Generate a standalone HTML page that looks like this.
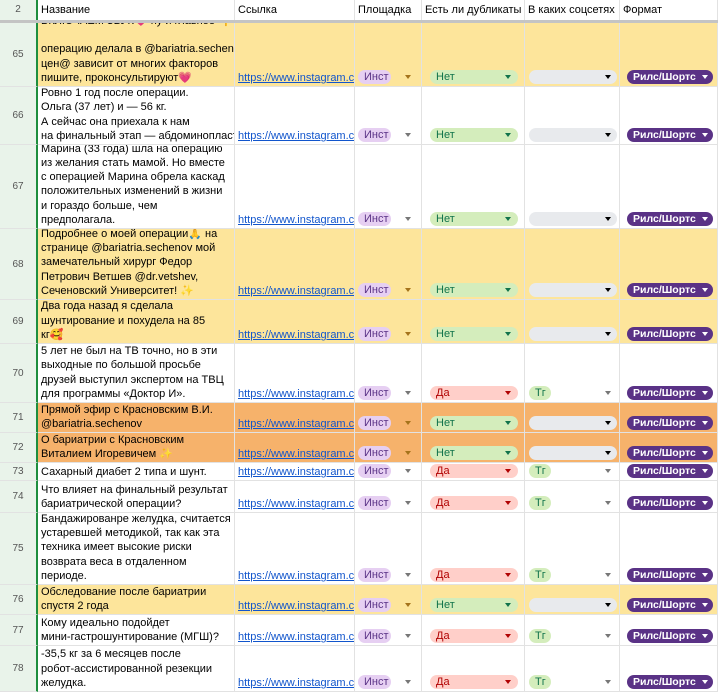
<!DOCTYPE html>
<html><head><meta charset="utf-8">
<style>
*{margin:0;padding:0;box-sizing:border-box}
body{width:718px;height:690px;overflow:hidden;background:#fff;font-family:"Liberation Sans","Noto Sans CJK SC",sans-serif;font-size:11px;color:#000;position:relative}
.c{position:absolute;overflow:hidden;border-right:1px solid #e2e2e2;border-bottom:1px solid #e2e2e2}
.rh{background:#e9f3ea;color:#555;font-size:10px;text-align:center;border-right:2px solid #1e8e3e}
.txt{line-height:14.2px;padding:0 2px 0 3px;white-space:nowrap;display:flex;flex-direction:column;justify-content:flex-end;padding-bottom:1px}
.lnk{color:#1155cc;text-decoration:underline;white-space:nowrap;padding-left:3px;display:flex;align-items:flex-end;padding-bottom:2px}
.chip{position:absolute;height:14px;border-radius:7px;font-size:11px;line-height:15px;padding-left:6px;white-space:nowrap}
.arr{position:absolute;width:0;height:0;border-left:3px solid transparent;border-right:3px solid transparent;border-top:4px solid #777}
</style></head><body>
<div id="root"></div>
<script>
var rows=[
[65,23,64,'#fde59b',['ВКЛЮЧАЕМ ЗВУК💗 ну и главное 👇','','операцию делала в @bariatria.sechen','цен@ зависит от многих факторов','пишите, проконсультируют💗'],0,0],
[66,87,58,'#fff',['Ровно 1 год после операции.','Ольга (37 лет) и — 56 кг.','А сейчас она приехала к нам','на финальный этап — абдоминопластика'],0,0],
[67,145,84,'#fff',['Марина (33 года) шла на операцию','из желания стать мамой. Но вместе','с операцией Марина обрела каскад','положительных изменений в жизни','и гораздо больше, чем','предполагала.'],0,0],
[68,229,71,'#fde59b',['Подробнее о моей операции🙏 на','странице @bariatria.sechenov мой','замечательный хирург Федор','Петрович Ветшев @dr.vetshev,','Сеченовский Университет! ✨'],0,0],
[69,300,44,'#fde59b',['Два года назад я сделала','шунтирование и похудела на 85','кг🥰'],0,0],
[70,344,59,'#fff',['5 лет не был на ТВ точно, но в эти','выходные по большой просьбе','друзей выступил экспертом на ТВЦ','для программы «Доктор И».'],1,1],
[71,403,30,'#f6b26b',['Прямой эфир с Красновским В.И.','@bariatria.sechenov'],0,0],
[72,433,30,'#f6b26b',['О бариатрии с Красновским','Виталием Игоревичем ✨'],0,0],
[73,463,18,'#fff',['Сахарный диабет 2 типа и шунт.'],1,1],
[74,481,32,'#fff',['Что влияет на финальный результат','бариатрической операции?'],1,1],
[75,513,72,'#fff',['Бандажированре желудка, считается','устаревшей методикой, так как эта','техника имеет высокие риски','возврата веса в отдаленном','периоде.'],1,1],
[76,585,30,'#fde59b',['Обследование после бариатрии','спустя 2 года'],0,0],
[77,615,31,'#fff',['Кому идеально подойдет','мини-гастрошунтирование (МГШ)?'],1,1],
[78,646,46,'#fff',['-35,5 кг за 6 месяцев после','робот-ассистированной резекции','желудка.'],1,1]
];
var cols=[[0,38],[38,235],[235,355],[355,422],[422,525],[525,620],[620,718]];
var h='';
function cell(x1,x2,y,hh,bg,cls,inner,extra){return '<div class="c '+(cls||'')+'" style="left:'+x1+'px;top:'+y+'px;width:'+(x2-x1)+'px;height:'+hh+'px;background:'+bg+';'+(extra||'')+'">'+(inner||'')+'</div>';}
var hd=['2','Название','Ссылка','Площадка','Есть ли дубликаты','В каких соцсетях','Формат'];
for(var i=0;i<7;i++){h+=cell(cols[i][0],cols[i][1],0,21,i==0?'#e9f3ea':'#fff',i==0?'rh':'',hd[i],'line-height:20px;'+(i?'padding-left:3px;font-size:11px;white-space:nowrap;':''));}
h+='<div style="position:absolute;left:0;top:20px;width:718px;height:3px;background:#c4c4c4"></div>';
rows.forEach(function(r){
 var n=r[0],y=r[1],hh=r[2],bg=r[3];
 h+=cell(0,38,y,hh,'#e9f3ea','rh',n,'line-height:'+hh+'px;');
 h+=cell(38,235,y,hh,bg,'txt',r[4].map(function(t){return '<div>'+(t||'&nbsp;')+'</div>';}).join(''));
 h+=cell(235,355,y,hh,bg,'lnk','https://www.instagram.com/reel/');
 for(var i=3;i<7;i++)h+=cell(cols[i][0],cols[i][1],y,hh,bg,'');
 var cy=y+hh-17;
 var ac=bg=='#fff'?'#777':'#a5731b';
 h+='<div class="chip" style="left:358px;top:'+cy+'px;width:33px;background:#e6cff2;color:#5a3286">Инст</div>';
 h+='<div class="arr" style="left:405px;top:'+(cy+5)+'px;border-top-color:'+ac+'"></div>';
 if(r[5]){h+='<div class="chip" style="left:430px;top:'+cy+'px;width:88px;background:#ffcfc9;color:#b10202">Да</div><div class="arr" style="left:505px;top:'+(cy+5)+'px;border-top-color:#b10202"></div>';}
 else{h+='<div class="chip" style="left:430px;top:'+cy+'px;width:88px;background:#d4edbc;color:#11734b">Нет</div><div class="arr" style="left:505px;top:'+(cy+5)+'px;border-top-color:#11734b"></div>';}
 if(r[6]){h+='<div class="chip" style="left:529px;top:'+cy+'px;width:22px;background:#d4edbc;color:#11734b">Тг</div><div class="arr" style="left:605px;top:'+(cy+5)+'px;border-top-color:#777"></div>';}
 else{h+='<div class="chip" style="left:529px;top:'+cy+'px;width:88px;background:#e8eaed"></div><div class="arr" style="left:605px;top:'+(cy+5)+'px;border-top-color:#000"></div>';}
 h+='<div class="chip" style="left:627px;top:'+cy+'px;width:86px;background:#5a3286;color:#fff;font-weight:bold;font-size:10.5px">Рилс/Шортс</div><div class="arr" style="left:702px;top:'+(cy+5)+'px;border-top-color:#fff"></div>';
});
document.getElementById('root').innerHTML=h;
</script>
</body></html>
